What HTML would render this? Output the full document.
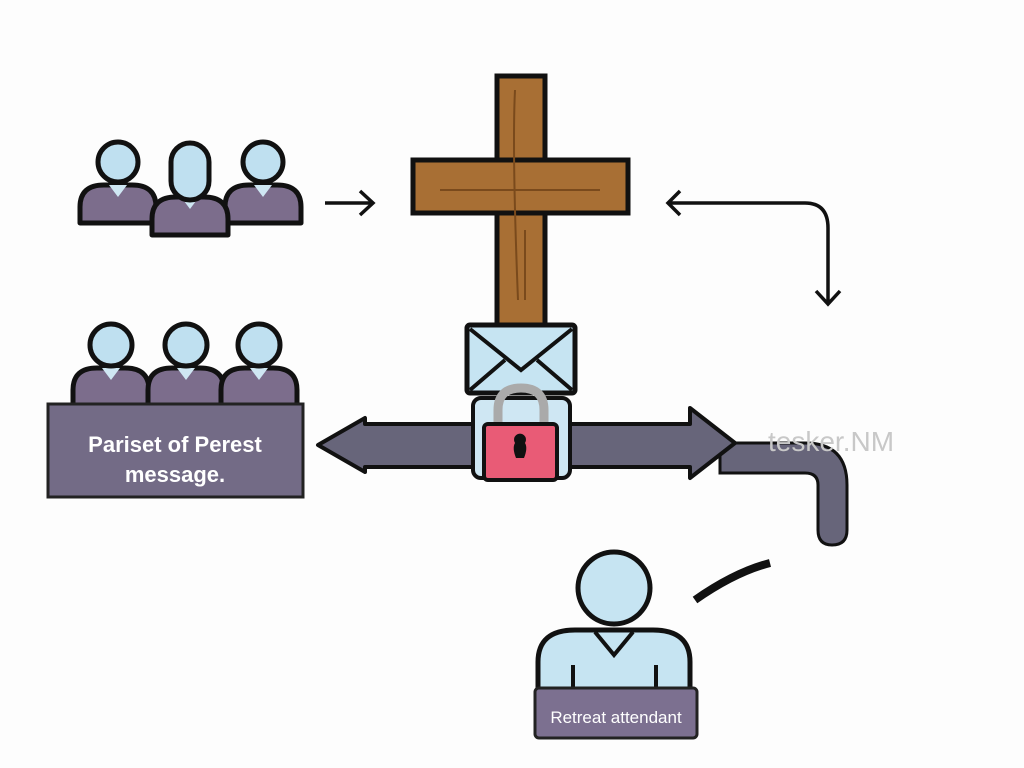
<!DOCTYPE html>
<html><head><meta charset="utf-8"><style>body{margin:0;background:#fff}svg{display:block}</style></head><body>
<svg width="1024" height="768" viewBox="0 0 1024 768" xmlns="http://www.w3.org/2000/svg" font-family="Liberation Sans, sans-serif">
<rect width="1024" height="768" fill="#fdfdfd"/>
<defs>
<g id="p">
<path d="M-38,38 L-38,22 Q-38,0 -14,0 L14,0 Q38,0 38,22 L38,38 Z" fill="#7c6d8c" stroke="#111" stroke-width="5" stroke-linejoin="round"/>
<path d="M-9,0 L0,12 L9,0 Z" fill="#cfe7f3"/>
</g>
</defs>
<use href="#p" transform="translate(118,185)"/>
<circle cx="118" cy="162" r="20" fill="#bfe0f0" stroke="#111" stroke-width="5"/>
<use href="#p" transform="translate(263,185)"/>
<circle cx="263" cy="162" r="20" fill="#bfe0f0" stroke="#111" stroke-width="5"/>
<use href="#p" transform="translate(190,197)"/>
<rect x="171" y="143" width="38" height="57" rx="19" fill="#bfe0f0" stroke="#111" stroke-width="5"/>
<path d="M325,203 H372 M360,191 L373,203 L360,215" fill="none" stroke="#111" stroke-width="3.5"/>
<rect x="497" y="76" width="48" height="252" fill="#a86f34" stroke="#111" stroke-width="5"/>
<rect x="413" y="160" width="215" height="53" fill="#a86f34" stroke="#111" stroke-width="5"/>
<rect x="499.5" y="162.5" width="43" height="48" fill="#a86f34"/>
<path d="M515,90 Q512,150 518,300 M440,190 H600 M525,230 V300" stroke="#7a4a1c" stroke-width="2" fill="none"/>
<path d="M670,203 H805 Q828,203 828,228 V303 M680,191 L668,203 L680,215 M816,291 L828,304 L840,291" fill="none" stroke="#111" stroke-width="3.5"/>
<use href="#p" transform="translate(111,368)"/>
<circle cx="111" cy="345" r="21" fill="#bfe0f0" stroke="#111" stroke-width="5"/>
<use href="#p" transform="translate(186,368)"/>
<circle cx="186" cy="345" r="21" fill="#bfe0f0" stroke="#111" stroke-width="5"/>
<use href="#p" transform="translate(259,368)"/>
<circle cx="259" cy="345" r="21" fill="#bfe0f0" stroke="#111" stroke-width="5"/>
<rect x="48" y="404" width="255" height="93" fill="#736b86" stroke="#222" stroke-width="3"/>
<text x="175" y="452" text-anchor="middle" fill="#fff" font-size="22" font-weight="bold">Pariset of Perest</text>
<text x="175" y="482" text-anchor="middle" fill="#fff" font-size="22" font-weight="bold">message.</text>
<path d="M720,443 H805 Q847,443 847,485 V530 Q847,545 832,545 Q818,545 818,530 V485 Q818,473 805,473 H720 Z" fill="#67657a" stroke="#111" stroke-width="3"/>
<path d="M318,445 L365,418 L365,424 L690,424 L690,408 L735,443 L690,478 L690,467 L365,467 L365,472 Z" fill="#67657a" stroke="#111" stroke-width="4" stroke-linejoin="round"/>
<text x="768" y="451" fill="#c8c8c8" font-size="28">tesker.NM</text>
<rect x="467" y="325" width="108" height="68" fill="#c6e4f2" stroke="#111" stroke-width="5" rx="3"/>
<path d="M470,329 L521,370 L572,329 M470,390 L505,360 M572,390 L537,360" fill="none" stroke="#111" stroke-width="4"/>
<rect x="473" y="398" width="97" height="80" rx="8" fill="#cfe7f3" stroke="#111" stroke-width="4"/>
<path d="M498,425 V410 Q498,388 521,388 Q544,388 544,410 V425" fill="none" stroke="#aaa" stroke-width="9"/>
<rect x="484" y="424" width="73" height="56" rx="4" fill="#e95b76" stroke="#111" stroke-width="4"/>
<path d="M516,458 Q512,448 515,443 A6,6 0 1 1 525,443 Q528,448 524,458 Z" fill="#111"/>
<path d="M695,600 Q735,572 770,563" fill="none" stroke="#111" stroke-width="8"/>
<path d="M538,695 V662 Q538,630 575,630 H653 Q690,630 690,662 V695 Z" fill="#c6e4f2" stroke="#111" stroke-width="5"/>
<path d="M595,632 L614,655 L633,632 M573,665 V690 M656,665 V690" fill="none" stroke="#111" stroke-width="4"/>
<circle cx="614" cy="588" r="36" fill="#c6e4f2" stroke="#111" stroke-width="5"/>
<rect x="535" y="688" width="162" height="50" rx="4" fill="#7c7090" stroke="#222" stroke-width="3"/>
<text x="616" y="723" text-anchor="middle" fill="#fff" font-size="17">Retreat attendant</text>
</svg>
</body></html>
